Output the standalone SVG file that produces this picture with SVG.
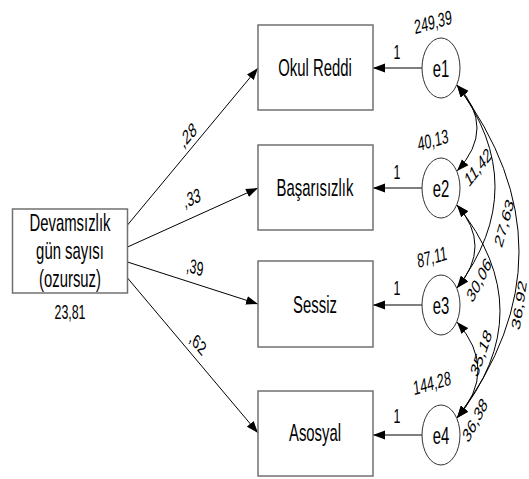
<svg xmlns="http://www.w3.org/2000/svg" width="529" height="479" viewBox="0 0 529 479">
  <defs>
    <marker id="arrow" viewBox="0 0 12 10" refX="12" refY="5" markerWidth="12" markerHeight="10" markerUnits="userSpaceOnUse" orient="auto-start-reverse">
      <path d="M0,0.6 L12,5 L0,9.4 Z" fill="#000"/>
    </marker>
  </defs>
  <style>
    .box { fill: #fff; stroke: #707070; stroke-width: 1.5; }
    .err { fill: #fff; stroke: #333; stroke-width: 1; }
    .txt { font-family: "Liberation Sans", Arial, sans-serif; font-size: 24px; fill: #000; text-anchor: middle; }
    .lbl { font-family: "Liberation Sans", Arial, sans-serif; font-size: 20px; fill: #000; text-anchor: middle; }
    .edge { fill: none; stroke: #000; stroke-width: 1; marker-end: url(#arrow); }
    .fix { fill: none; stroke: #555; stroke-width: 1.3; marker-end: url(#arrow); }
    .cov { fill: none; stroke: #000; stroke-width: 1; marker-start: url(#arrow); marker-end: url(#arrow); }
  </style>

  <!-- connectors -->
  <g id="connectors">
    <!-- regression weights -->
    <line class="edge" x1="127.5" y1="225" x2="258" y2="68"/>
    <line class="edge" x1="127.5" y1="247" x2="258" y2="188"/>
    <line class="edge" x1="127.5" y1="262" x2="258" y2="304"/>
    <line class="edge" x1="127.5" y1="278" x2="258" y2="433"/>
    <!-- error terms, fixed to 1 -->
    <line class="fix" x1="422" y1="68" x2="373" y2="68"/>
    <line class="fix" x1="422" y1="188" x2="373" y2="188"/>
    <line class="fix" x1="422" y1="305" x2="373" y2="305"/>
    <line class="fix" x1="422" y1="435" x2="373" y2="435"/>
    <!-- error covariances -->
    <path class="cov" d="M457,85 Q497,128 457,171"/>
    <path class="cov" d="M457,85 Q533,187 457,288"/>
    <path class="cov" d="M457,85 Q581,252 457,418"/>
    <path class="cov" d="M457,205 Q493,246 457,288"/>
    <path class="cov" d="M457,205 Q543,311 457,418"/>
    <path class="cov" d="M457,322 Q499,370 457,418"/>
  </g>

  <!-- estimates -->
  <g id="estimates">
    <text class="lbl" dy="0.35em" transform="translate(188,135) scale(0.62,1) rotate(-36)">,28</text>
    <text class="lbl" dy="0.35em" transform="translate(192,198) scale(0.62,1) rotate(-15)">,33</text>
    <text class="lbl" dy="0.35em" transform="translate(195,267) scale(0.62,1) rotate(11)">,39</text>
    <text class="lbl" dy="0.35em" transform="translate(198,343) scale(0.62,1) rotate(36)">,62</text>

    <text class="lbl" dy="0.35em" transform="translate(397,52) scale(0.62,1)">1</text>
    <text class="lbl" dy="0.35em" transform="translate(397,172) scale(0.62,1)">1</text>
    <text class="lbl" dy="0.35em" transform="translate(397,288) scale(0.62,1)">1</text>
    <text class="lbl" dy="0.35em" transform="translate(397,416) scale(0.62,1)">1</text>

    <text class="lbl" dy="0.35em" transform="translate(433,22) scale(0.62,1) rotate(-10)">249,39</text>
    <text class="lbl" dy="0.35em" transform="translate(433,140) scale(0.62,1) rotate(-10)">40,13</text>
    <text class="lbl" dy="0.35em" transform="translate(432,257) scale(0.62,1) rotate(-10)">87,11</text>
    <text class="lbl" dy="0.35em" transform="translate(432,383) scale(0.62,1) rotate(-10)">144,28</text>

    <text class="lbl" dy="0.35em" transform="translate(478,167) scale(0.62,1) rotate(-39)">11,42</text>
    <text class="lbl" dy="0.35em" transform="translate(504,223) scale(0.62,1) rotate(-66)">27,63</text>
    <text class="lbl" dy="0.35em" transform="translate(479,280) scale(0.62,1) rotate(-51)">30,06</text>
    <text class="lbl" dy="0.35em" transform="translate(481,353) scale(0.62,1) rotate(-61)">35,18</text>
    <text class="lbl" dy="0.35em" transform="translate(519,305) scale(0.62,1) rotate(-76)">36,92</text>
    <text class="lbl" dy="0.35em" transform="translate(475,420) scale(0.62,1) rotate(-50)">36,38</text>

    <text class="lbl" dy="0.35em" transform="translate(70,312) scale(0.62,1)">23,81</text>
  </g>

  <g id="devamsizlik">
    <rect class="box" x="12.5" y="209" width="115" height="84"/>
    <text class="txt" transform="translate(70,231) scale(0.62,1)">Devamsızlık</text>
    <text class="txt" transform="translate(70,259) scale(0.62,1)">gün sayısı</text>
    <text class="txt" transform="translate(70,287) scale(0.62,1)">(ozursuz)</text>
  </g>

  <g id="okul-reddi">
    <rect class="box" x="258" y="25" width="115" height="85"/>
    <text class="txt" transform="translate(315,76) scale(0.62,1)">Okul Reddi</text>
  </g>
  <g id="basarisizlik">
    <rect class="box" x="258" y="145" width="115" height="85"/>
    <text class="txt" transform="translate(315,196) scale(0.62,1)">Başarısızlık</text>
  </g>
  <g id="sessiz">
    <rect class="box" x="258" y="261" width="115" height="86"/>
    <text class="txt" transform="translate(315,313) scale(0.62,1)">Sessiz</text>
  </g>
  <g id="asosyal">
    <rect class="box" x="258" y="391" width="115" height="85"/>
    <text class="txt" transform="translate(315,441) scale(0.62,1)">Asosyal</text>
  </g>

  <g id="e1">
    <ellipse class="err" cx="441" cy="68" rx="19" ry="30"/>
    <text class="txt" transform="translate(441,77) scale(0.62,1)">e1</text>
  </g>
  <g id="e2">
    <ellipse class="err" cx="441" cy="188" rx="19" ry="30"/>
    <text class="txt" transform="translate(441,197) scale(0.62,1)">e2</text>
  </g>
  <g id="e3">
    <ellipse class="err" cx="441" cy="305" rx="19" ry="30"/>
    <text class="txt" transform="translate(441,314) scale(0.62,1)">e3</text>
  </g>
  <g id="e4">
    <ellipse class="err" cx="441" cy="435" rx="19" ry="30"/>
    <text class="txt" transform="translate(441,444) scale(0.62,1)">e4</text>
  </g>
</svg>
